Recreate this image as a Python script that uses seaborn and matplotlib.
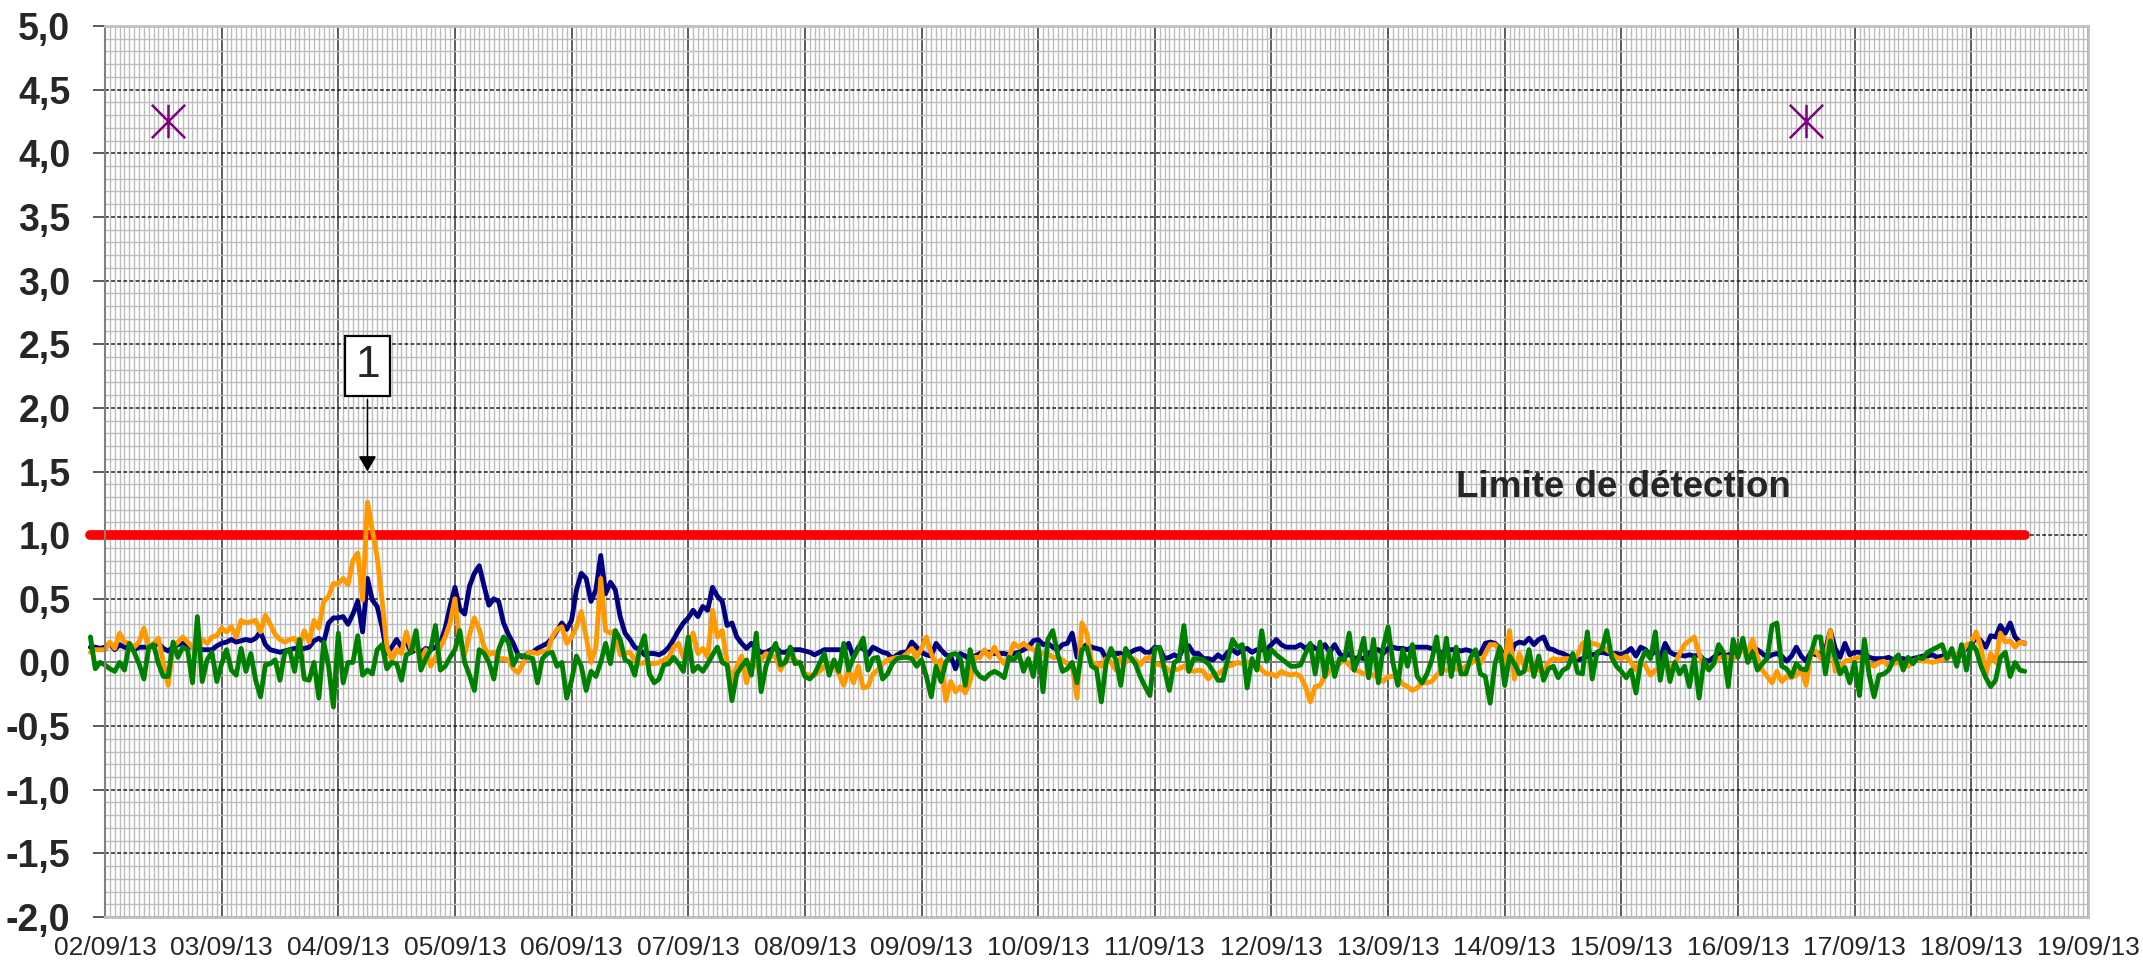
import matplotlib.dates as mdates
import matplotlib.pyplot as plt
import pandas as pd
import seaborn as sns
from matplotlib.path import Path
from matplotlib.ticker import FuncFormatter, MultipleLocator

# hourly readings, first one at 01/09/13 21:00
START = "2013-09-01 21:00"

blue = [
    0.12, 0.12, 0.11,
    # 02/09
    0.12, 0.15, 0.10, 0.14, 0.12, 0.11, 0.10, 0.12, 0.12, 0.12, 0.13, 0.15,
    0.11, 0.09, 0.12, 0.14, 0.15, 0.13, 0.12, 0.11, 0.10, 0.10, 0.10, 0.13,
    # 03/09
    0.15, 0.16, 0.18, 0.16, 0.17, 0.18, 0.17, 0.19, 0.24, 0.14, 0.10, 0.09,
    0.08, 0.09, 0.10, 0.11, 0.10, 0.11, 0.12, 0.17, 0.19, 0.16, 0.31, 0.35,
    # 04/09
    0.35, 0.36, 0.30, 0.38, 0.48, 0.24, 0.66, 0.49, 0.44, 0.28, 0.07, 0.12,
    0.18, 0.12, 0.17, 0.08, 0.10, 0.08, 0.11, 0.10, 0.12, 0.15, 0.27, 0.44,
    # 05/09
    0.59, 0.42, 0.38, 0.60, 0.70, 0.76, 0.60, 0.45, 0.50, 0.48, 0.31, 0.22,
    0.15, 0.06, 0.04, 0.07, 0.08, 0.11, 0.13, 0.15, 0.19, 0.25, 0.31, 0.26,
    # 06/09
    0.33, 0.57, 0.70, 0.66, 0.48, 0.57, 0.84, 0.54, 0.63, 0.57, 0.36, 0.23,
    0.18, 0.12, 0.10, 0.06, 0.07, 0.07, 0.06, 0.08, 0.12, 0.18, 0.25, 0.31,
    # 07/09
    0.35, 0.41, 0.36, 0.44, 0.41, 0.59, 0.52, 0.48, 0.29, 0.31, 0.20, 0.15,
    0.11, 0.15, 0.11, 0.08, 0.08, 0.10, 0.12, 0.08, 0.08, 0.10, 0.10, 0.10,
    # 08/09
    0.09, 0.08, 0.06, 0.08, 0.10, 0.10, 0.10, 0.10, 0.09, 0.15, 0.04, 0.12,
    0.11, 0.06, 0.12, 0.10, 0.08, 0.07, 0.03, 0.06, 0.08, 0.08, 0.16, 0.12,
    # 09/09
    0.08, 0.06, 0.05, 0.15, 0.10, 0.06, 0.05, -0.05, 0.07, 0.05, 0.02, 0.05,
    0.07, 0.08, 0.08, 0.07, 0.07, 0.07, 0.06, 0.07, 0.08, 0.10, 0.12, 0.17,
    # 10/09
    0.18, 0.14, 0.15, 0.12, 0.10, 0.14, 0.15, 0.23, 0.04, 0.11, 0.14, 0.12,
    0.11, 0.10, 0.03, 0.07, 0.07, 0.07, 0.04, 0.08, 0.10, 0.11, 0.08, 0.08,
    # 11/09
    0.12, 0.11, 0.03, 0.04, 0.06, 0.04, 0.13, 0.13, 0.07, 0.07, 0.03, 0.03,
    0.02, 0.06, 0.03, 0.08, 0.10, 0.07, 0.10, 0.11, 0.08, 0.10, 0.10, 0.10,
    # 12/09
    0.14, 0.18, 0.14, 0.12, 0.12, 0.12, 0.14, 0.11, 0.14, 0.11, 0.10, 0.14,
    0.08, 0.14, 0.07, 0.04, 0.07, 0.03, 0.04, 0.03, 0.07, 0.10, 0.10, 0.07,
    # 13/09
    0.11, 0.12, 0.11, 0.11, 0.10, 0.12, 0.12, 0.12, 0.12, 0.11, 0.10, 0.07,
    0.10, 0.10, 0.10, 0.09, 0.10, 0.09, 0.06, 0.07, 0.15, 0.16, 0.15, 0.11,
    # 14/09
    0.04, 0.04, 0.14, 0.16, 0.15, 0.19, 0.14, 0.18, 0.20, 0.11, 0.10, 0.08,
    0.07, 0.05, 0.03, 0.02, 0.03, 0.05, 0.06, 0.07, 0.08, 0.07, 0.07, 0.07,
    # 15/09
    0.06, 0.08, 0.11, 0.05, 0.12, 0.10, 0.05, 0.10, 0.03, 0.15, 0.08, 0.06,
    0.06, 0.05, 0.06, 0.05, 0.06, 0.02, 0.01, 0.04, 0.07, 0.05, 0.06, 0.07,
    # 16/09
    0.08, 0.10, 0.08, 0.09, 0.10, 0.07, 0.04, 0.06, 0.07, 0.05, 0.01, 0.05,
    0.12, 0.05, 0.01, 0.08, 0.06, 0.07, 0.10, 0.25, 0.11, 0.04, 0.15, 0.06,
    # 17/09
    0.08, 0.08, 0.07, 0.04, 0.03, 0.03, 0.03, 0.04, 0.02, 0.03, 0.03, 0.02,
    0.03, 0.04, 0.05, 0.05, 0.06, 0.04, 0.05, 0.06, 0.05, 0.06, 0.08, 0.11,
    # 18/09
    0.14, 0.20, 0.17, 0.12, 0.21, 0.20, 0.29, 0.23, 0.31, 0.20, 0.16, 0.15,
]

orange = [
    0.08, 0.10, 0.10,
    # 02/09
    0.10, 0.16, 0.11, 0.23, 0.16, 0.15, 0.12, 0.16, 0.27, 0.12, 0.15, 0.19,
    0.00, -0.18, 0.12, 0.16, 0.20, 0.16, 0.12, 0.10, 0.18, 0.15, 0.20, 0.21,
    # 03/09
    0.27, 0.24, 0.28, 0.20, 0.33, 0.31, 0.32, 0.33, 0.24, 0.37, 0.30, 0.22,
    0.18, 0.16, 0.18, 0.19, 0.12, 0.25, 0.16, 0.33, 0.27, 0.48, 0.52, 0.62,
    # 04/09
    0.62, 0.66, 0.61, 0.80, 0.86, 0.49, 1.26, 1.04, 0.83, 0.49, 0.12, 0.02,
    0.10, 0.07, 0.24, 0.10, 0.12, 0.02, 0.10, -0.03, 0.04, 0.12, 0.20, 0.31,
    # 05/09
    0.50, 0.15, 0.06, 0.22, 0.35, 0.26, 0.12, 0.06, 0.08, 0.03, 0.03, 0.02,
    -0.05, -0.08, -0.01, 0.07, 0.08, 0.07, 0.09, 0.08, 0.20, 0.26, 0.28, 0.15,
    # 06/09
    0.20, 0.28, 0.40, 0.20, 0.00, 0.12, 0.66, 0.25, 0.23, 0.25, 0.06, 0.07,
    0.08, 0.02, -0.01, 0.00, -0.01, -0.01, 0.00, 0.02, 0.04, 0.12, 0.15, 0.04,
    # 07/09
    0.12, 0.23, 0.07, 0.11, 0.04, 0.41, 0.20, 0.25, 0.00, -0.14, -0.03, 0.05,
    -0.16, 0.00, -0.03, 0.02, 0.07, 0.06, 0.04, -0.06, 0.02, 0.04, 0.02, -0.01,
    # 08/09
    -0.09, -0.10, -0.10, -0.07, -0.03, -0.03, -0.02, -0.09, -0.18, -0.05, -0.16, -0.03,
    -0.20, -0.19, -0.09, -0.06, -0.01, 0.02, 0.03, 0.04, 0.04, 0.07, 0.11, 0.04,
    # 09/09
    0.11, 0.20, 0.07, -0.01, 0.02, -0.30, -0.15, -0.23, -0.19, -0.24, -0.15, 0.04,
    0.04, 0.10, 0.04, 0.12, 0.04, -0.01, 0.04, 0.15, 0.12, 0.15, 0.12, 0.10,
    # 10/09
    0.08, 0.07, 0.07, 0.04, 0.04, 0.02, -0.01, -0.03, -0.28, 0.31, 0.23, 0.00,
    -0.01, -0.03, 0.03, 0.00, -0.06, 0.04, 0.00, 0.04, 0.02, -0.02, 0.03, 0.04,
    # 11/09
    -0.01, -0.02, -0.03, -0.07, -0.06, -0.05, -0.03, -0.06, -0.07, -0.06, -0.07, -0.13,
    -0.09, -0.09, -0.06, -0.03, -0.02, 0.00, -0.01, 0.00, 0.00, -0.01, -0.06, -0.09,
    # 12/09
    -0.09, -0.11, -0.07, -0.09, -0.10, -0.09, -0.11, -0.19, -0.31, -0.19, -0.18, -0.11,
    -0.06, -0.05, -0.01, 0.02, -0.02, -0.06, -0.07, -0.09, -0.09, -0.10, -0.12, -0.15,
    # 13/09
    -0.11, -0.11, -0.12, -0.17, -0.19, -0.22, -0.20, -0.16, -0.16, -0.15, -0.10, -0.06,
    -0.06, -0.06, -0.05, -0.06, -0.03, -0.01, 0.02, -0.01, 0.07, 0.14, 0.14, 0.10,
    # 14/09
    -0.01, 0.25, -0.13, 0.07, -0.03, -0.06, -0.01, -0.06, -0.09, 0.00, 0.03, 0.02,
    0.03, 0.03, 0.01, 0.06, 0.15, 0.17, 0.15, 0.14, 0.12, 0.10, 0.07, 0.04,
    # 15/09
    0.03, 0.05, 0.00, -0.06, 0.01, -0.03, -0.10, -0.06, -0.07, -0.01, -0.05, -0.01,
    0.07, 0.14, 0.17, 0.20, 0.07, -0.04, -0.05, -0.01, 0.03, 0.05, 0.04, 0.03,
    # 16/09
    0.06, 0.10, 0.07, 0.18, 0.04, -0.06, -0.11, -0.16, -0.07, -0.15, -0.11, -0.12,
    -0.10, -0.05, -0.18, 0.07, 0.09, 0.03, 0.04, 0.25, -0.07, -0.03, 0.01, 0.02,
    # 17/09
    0.03, 0.04, 0.01, -0.01, -0.03, 0.00, 0.01, -0.03, -0.01, 0.00, -0.02, -0.03,
    0.01, 0.03, 0.01, 0.01, 0.00, 0.01, 0.02, 0.04, 0.05, 0.06, 0.07, 0.14,
    # 18/09
    0.15, 0.24, 0.12, -0.10, 0.07, 0.00, 0.23, 0.16, 0.17, 0.12, 0.16, 0.15,
]

green = [
    0.20, -0.05, 0.00,
    # 02/09
    -0.02, -0.05, -0.07, 0.00, -0.06, 0.15, 0.08, -0.01, -0.13, 0.12, 0.14, -0.01,
    -0.11, -0.11, 0.16, 0.04, 0.12, 0.10, -0.16, 0.36, -0.15, 0.02, 0.08, -0.15,
    # 03/09
    -0.01, 0.10, -0.06, -0.10, 0.11, -0.07, 0.07, -0.14, -0.27, -0.02, -0.01, 0.02,
    -0.14, 0.08, 0.10, -0.07, 0.18, -0.13, -0.14, 0.00, -0.28, 0.16, -0.03, -0.35,
    # 04/09
    0.23, -0.16, 0.00, 0.00, 0.21, -0.10, -0.06, -0.09, 0.10, 0.14, -0.05, 0.00,
    -0.01, -0.14, 0.06, 0.08, 0.25, -0.06, 0.03, 0.10, 0.29, -0.06, -0.03, 0.04,
    # 05/09
    0.10, 0.25, 0.00, -0.10, -0.22, 0.10, 0.07, 0.00, -0.13, 0.10, 0.20, 0.16,
    -0.02, 0.06, 0.05, 0.04, 0.03, -0.16, 0.03, 0.07, 0.08, -0.03, 0.00, -0.28,
    # 06/09
    -0.14, 0.05, -0.03, -0.22, -0.07, -0.11, 0.00, 0.15, -0.01, 0.25, 0.18, 0.02,
    0.00, -0.10, 0.10, 0.21, -0.09, -0.16, -0.13, -0.02, -0.01, 0.04, -0.01, -0.07,
    # 07/09
    0.20, -0.07, -0.03, -0.07, -0.01, 0.06, 0.12, 0.00, -0.02, -0.30, -0.09, -0.03,
    0.02, -0.10, 0.23, -0.23, -0.03, 0.07, 0.15, -0.02, 0.00, 0.12, -0.01, 0.00,
    # 08/09
    -0.11, -0.13, -0.09, -0.01, 0.07, -0.10, 0.02, -0.07, 0.15, -0.06, 0.04, 0.11,
    0.19, -0.06, 0.03, 0.04, -0.13, -0.09, -0.01, 0.03, 0.04, 0.04, 0.03, -0.03,
    # 09/09
    0.02, -0.11, -0.27, -0.03, -0.15, 0.00, 0.06, 0.07, 0.03, -0.18, 0.10, -0.06,
    -0.11, -0.13, -0.09, -0.07, -0.09, -0.12, 0.04, 0.02, 0.07, -0.07, 0.03, -0.11,
    # 10/09
    0.14, -0.23, 0.18, 0.25, 0.07, -0.07, -0.05, 0.00, -0.16, 0.10, 0.12, -0.03,
    -0.05, -0.31, 0.00, 0.11, 0.02, -0.18, 0.11, 0.04, -0.01, -0.11, -0.19, -0.26,
    # 11/09
    0.11, 0.12, -0.06, -0.22, 0.00, 0.02, 0.29, -0.07, 0.03, 0.03, 0.02, -0.01,
    -0.07, -0.14, -0.14, 0.02, 0.18, 0.12, 0.14, -0.20, 0.03, -0.06, 0.25, 0.01,
    # 12/09
    0.10, 0.06, 0.03, 0.00, -0.03, -0.03, -0.02, 0.07, 0.15, -0.09, 0.16, -0.11,
    0.10, -0.11, 0.03, 0.02, 0.23, -0.06, 0.04, 0.19, -0.12, 0.18, -0.16, 0.12,
    # 13/09
    0.28, 0.00, -0.18, 0.10, -0.03, 0.14, -0.11, -0.16, -0.09, 0.02, 0.20, -0.09,
    0.19, -0.11, 0.12, -0.09, -0.09, 0.04, 0.10, -0.09, -0.11, -0.32, -0.01, 0.12,
    # 14/09
    -0.18, 0.05, -0.01, -0.09, -0.07, 0.10, -0.11, 0.05, -0.14, -0.05, -0.03, -0.12,
    -0.06, -0.04, 0.07, -0.08, -0.09, 0.24, -0.13, 0.08, 0.10, 0.25, 0.04, -0.03,
    # 15/09
    -0.07, -0.12, -0.06, -0.24, 0.01, 0.09, 0.03, 0.24, -0.14, 0.08, -0.15, 0.00,
    -0.09, -0.03, -0.19, 0.04, -0.28, 0.02, -0.06, -0.01, 0.14, 0.08, -0.19, 0.18,
    # 16/09
    0.04, 0.19, 0.00, 0.08, -0.06, -0.01, 0.03, 0.29, 0.31, -0.03, -0.05, -0.11,
    -0.01, -0.05, -0.06, 0.07, 0.20, 0.20, -0.09, 0.17, 0.04, -0.09, -0.04, -0.16,
    # 17/09
    0.00, -0.26, 0.18, -0.10, -0.27, -0.10, -0.09, -0.06, 0.02, 0.06, -0.06, 0.04,
    -0.01, 0.04, 0.03, 0.08, 0.10, 0.12, 0.14, 0.03, 0.11, -0.03, 0.14, -0.06,
    # 18/09
    0.15, 0.10, -0.03, -0.12, -0.19, -0.14, 0.04, 0.08, -0.11, 0.00, -0.06, -0.07,
]

series_names = ["bleu", "orange", "vert"]
series_colors = ["#000080", "#FF9900", "#008000"]

detection_limit = 1.0
star_times = ["2013-09-02 13:00", "2013-09-16 14:00"]
star_values = [4.25, 4.25]

sns.set_theme(style="white")
plt.rcParams["font.family"] = ["Liberation Sans", "DejaVu Sans"]

times = pd.date_range(START, periods=len(blue), freq="h")
wide = pd.DataFrame({"time": times, "bleu": blue, "orange": orange, "vert": green})
df = wide.melt(id_vars="time", var_name="serie", value_name="valeur")

fig, ax = plt.subplots(figsize=(21.43, 9.67), dpi=100)
fig.subplots_adjust(left=0.049, right=0.9743, bottom=0.0517, top=0.9731)

# detection limit, drawn under the series
ax.plot([times[0], times[-1]], [detection_limit, detection_limit],
        color="#FF0000", lw=7, solid_capstyle="round", zorder=1.8, clip_on=False)

sns.lineplot(data=df, x="time", y="valeur", hue="serie", hue_order=series_names,
             palette=series_colors, estimator=None, lw=3.5, legend=False, ax=ax)
for line in ax.lines:
    line.set_clip_on(False)

# asterisk marker: vertical stroke plus an X
star = Path([(0, -1), (0, 1), (-1, -1), (1, 1), (-1, 1), (1, -1)],
            [Path.MOVETO, Path.LINETO, Path.MOVETO, Path.LINETO, Path.MOVETO, Path.LINETO])
ax.plot(pd.to_datetime(star_times), star_values, ls="none", marker=star, ms=24,
        mfc="none", mec="#800080", mew=1.8, zorder=4)

ax.axhline(0, color="#808080", lw=1.3, zorder=1)

peak = wide.loc[wide["orange"].idxmax()]
ax.annotate("1", xy=(peak["time"], peak["orange"] + 0.24), xytext=(peak["time"], 2.33),
            ha="center", va="center", fontsize=32,
            bbox=dict(boxstyle="square,pad=0.22", fc="white", ec="black", lw=1.6),
            arrowprops=dict(arrowstyle="-|>,head_length=0.47,head_width=0.27",
                            color="black", lw=1.1, mutation_scale=20, shrinkB=0),
            zorder=5)

ax.text(pd.Timestamp("2013-09-13 14:00"), 1.30, "Limite de détection",
        fontsize=26.5, fontweight="bold", va="baseline", ha="left", zorder=5)

ax.set_xlim(pd.Timestamp("2013-09-02"), pd.Timestamp("2013-09-19"))
ax.set_ylim(-2, 5)
ax.xaxis.set_major_locator(mdates.DayLocator())
ax.xaxis.set_minor_locator(mdates.HourLocator())
ax.xaxis.set_major_formatter(mdates.DateFormatter("%d/%m/%y"))
ax.yaxis.set_major_locator(MultipleLocator(0.5))
ax.yaxis.set_minor_locator(MultipleLocator(0.1))
ax.yaxis.set_major_formatter(FuncFormatter(lambda v, _: f"{v:.1f}".replace(".", ",")))

ax.set_axisbelow(True)
ax.grid(which="minor", color="#BDBDBD", lw=1.0)
ax.grid(which="major", axis="x", color="#303030", lw=1.1)
ax.grid(which="major", axis="y", color="#202020", lw=1.1, ls=(0, (2.5, 1.5)))

ax.set_xlabel("")
ax.set_ylabel("")
ax.tick_params(axis="y", which="major", length=9, width=1.2, color="#404040",
               pad=16, labelsize=27, left=True)
for lab in ax.get_yticklabels():
    lab.set_fontweight("bold")
ax.tick_params(axis="x", which="major", length=0, pad=14, labelsize=19)
ax.tick_params(which="minor", length=0)

for side in ["top", "right", "bottom"]:
    ax.spines[side].set_color("#C0C0C0")
    ax.spines[side].set_linewidth(2)
ax.spines["left"].set_color("#808080")
ax.spines["left"].set_linewidth(1.5)

fig.savefig("out.png", dpi=100)
